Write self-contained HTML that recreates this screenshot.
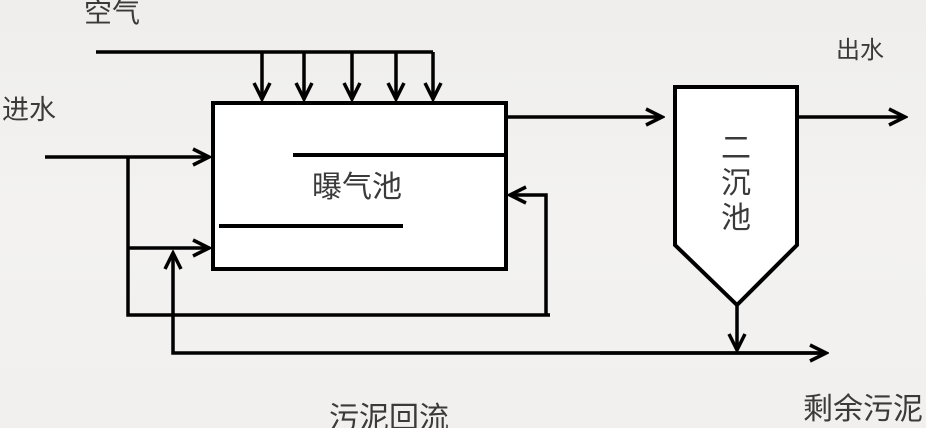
<!DOCTYPE html>
<html><head><meta charset="utf-8"><style>
html,body{margin:0;padding:0;}
body{width:926px;height:428px;overflow:hidden;background:linear-gradient(180deg,#efeeec 0%,#f3f2f0 50%,#f1f0ee 100%);}
svg{display:block;}
text{font-family:"Liberation Sans","Noto Sans CJK SC",sans-serif;fill:#3a3a3a;}
</style></head><body>
<svg width="926" height="428" viewBox="0 0 926 428" xmlns="http://www.w3.org/2000/svg">
<defs>
<marker id="a" markerWidth="22" markerHeight="20" refX="19" refY="10" orient="auto" markerUnits="userSpaceOnUse">
<path d="M3,2 L19,10 L3,18" fill="none" stroke="#000" stroke-width="3.5"/>
</marker>
</defs>
<g stroke="#000" stroke-width="4" fill="none">
<rect x="213" y="103" width="293" height="166" fill="#fff"/>
<path d="M675,87 H797 V245 L737,305 L675,245 Z" fill="#fff"/>
</g>
<g stroke="#000" stroke-width="3.5" fill="none">
<line x1="96" y1="52" x2="433" y2="52"/>
<line x1="262" y1="52" x2="262" y2="99" marker-end="url(#a)"/>
<line x1="304" y1="52" x2="304" y2="99" marker-end="url(#a)"/>
<line x1="352" y1="52" x2="352" y2="99" marker-end="url(#a)"/>
<line x1="396" y1="52" x2="396" y2="99" marker-end="url(#a)"/>
<line x1="433" y1="52" x2="433" y2="99" marker-end="url(#a)"/>
<line x1="45" y1="157" x2="209" y2="157" marker-end="url(#a)"/>
<polyline points="128,157 128,315 550,315"/>
<line x1="128" y1="248" x2="209" y2="248" marker-end="url(#a)"/>
<line x1="293" y1="155" x2="506" y2="155" stroke-width="4"/>
<line x1="219" y1="226" x2="403" y2="226" stroke-width="4"/>
<polyline points="546,315 546,195 510,195" marker-end="url(#a)"/>
<polyline points="826,353 173,353 173,253" marker-end="url(#a)"/>
<line x1="600" y1="353" x2="826" y2="353" marker-end="url(#a)"/>
<line x1="508" y1="117" x2="662" y2="117" marker-end="url(#a)"/>
<line x1="799" y1="117" x2="905" y2="117" marker-end="url(#a)"/>
<line x1="737" y1="306" x2="737" y2="350" marker-end="url(#a)"/>
</g>
<text x="84" y="22" font-size="28">空气</text>
<text x="2" y="119" font-size="27">进水</text>
<text x="836" y="58" font-size="24">出水</text>
<text x="312" y="197" font-size="30">曝气池</text>
<text x="721" y="158" font-size="30">二</text>
<text x="721" y="193" font-size="30">沉</text>
<text x="721" y="228" font-size="30">池</text>
<text x="329" y="428" font-size="30">污泥回流</text>
<text x="803" y="419" font-size="30">剩余污泥</text>
</svg>
</body></html>
